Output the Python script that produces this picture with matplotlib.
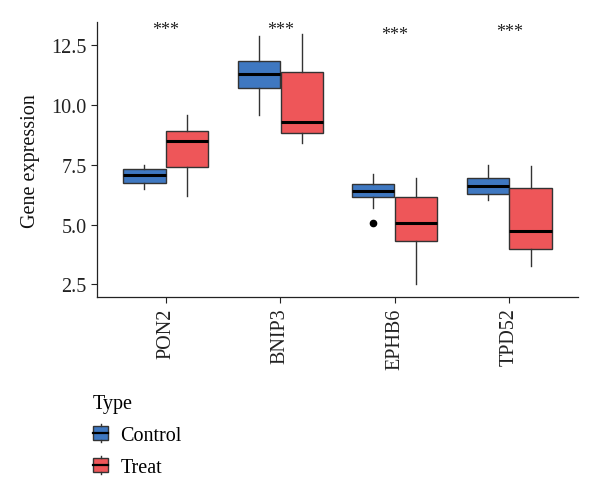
import numpy as np
import matplotlib.pyplot as plt
from matplotlib.patches import Rectangle
from matplotlib.lines import Line2D
from matplotlib.legend_handler import HandlerBase

plt.rcParams['font.family'] = ['Liberation Serif', 'DejaVu Serif']

genes = ['PON2', 'BNIP3', 'EPHB6', 'TPD52']
groups = ['Control', 'Treat']
colors = ['#3F78C1', '#EE5659']

# whislo, q1, median, q3, whishi for each gene
control_stats = [
    [6.49, 6.76, 7.08, 7.32, 7.50],
    [9.58, 10.72, 11.30, 11.82, 12.86],
    [5.70, 6.14, 6.40, 6.68, 7.11],
    [6.01, 6.30, 6.61, 6.95, 7.49],
]
treat_stats = [
    [6.20, 7.39, 8.49, 8.90, 9.60],
    [8.42, 8.82, 9.30, 11.39, 12.96],
    [2.53, 4.32, 5.05, 6.15, 6.95],
    [3.26, 3.99, 4.74, 6.54, 7.47],
]
control_outliers = [[], [], [5.08], []]
treat_outliers = [[], [], [], []]

stars = ['***', '***', '***', '***']
star_y = [13.15, 13.15, 12.96, 13.07]


def to_bxp(rows, outs):
    return [dict(whislo=r[0], q1=r[1], med=r[2], q3=r[3], whishi=r[4], fliers=o)
            for r, o in zip(rows, outs)]


class BoxKey(HandlerBase):
    def create_artists(self, legend, orig_handle, xdescent, ydescent,
                       width, height, fontsize, trans):
        w = width
        x0 = -xdescent
        y0 = -ydescent + height * 0.12
        h = height * 0.76
        box = Rectangle((x0, y0), w, h, facecolor=orig_handle.get_facecolor(),
                        edgecolor='#333333', linewidth=1.0, transform=trans)
        xm = x0 + w / 2
        med = Line2D([x0, x0 + w], [y0 + h / 2] * 2, color='black', lw=1.6, transform=trans)
        top = Line2D([xm, xm], [y0 + h, -ydescent + height], color='#333333', lw=1.0, transform=trans)
        bot = Line2D([xm, xm], [-ydescent, y0], color='#333333', lw=1.0, transform=trans)
        return [box, med, top, bot]


fig = plt.figure(figsize=(6, 5.02), dpi=100)
ax = fig.add_axes([0.162, 0.406, 0.801, 0.548])

x = np.arange(1, len(genes) + 1)
offset = 0.1875
for stats, outs, col, off in [(control_stats, control_outliers, colors[0], -offset),
                              (treat_stats, treat_outliers, colors[1], offset)]:
    ax.bxp(to_bxp(stats, outs), positions=x + off, widths=0.37, patch_artist=True,
           showcaps=False, manage_ticks=False,
           boxprops=dict(facecolor=col, edgecolor='#333333', linewidth=1.0),
           medianprops=dict(color='black', linewidth=2.2),
           whiskerprops=dict(color='#333333', linewidth=1.0),
           flierprops=dict(marker='o', markerfacecolor='black',
                           markeredgecolor='black', markersize=4.5))

for xi, s, yi in zip(x, stars, star_y):
    ax.text(xi, yi, s, ha='center', va='center', fontsize=13, color='#222222')

ax.set_xlim(0.4, 4.6)
ax.set_ylim(1.97, 13.46)
ax.set_yticks([2.5, 5.0, 7.5, 10.0, 12.5])
ax.set_yticklabels(['2.5', '5.0', '7.5', '10.0', '12.5'])
ax.set_xticks(x)
ax.set_xticklabels(genes, rotation=90)
ax.tick_params(labelsize=14.5, colors='#222222', length=4, width=0.8)
ax.spines['top'].set_visible(False)
ax.spines['right'].set_visible(False)
for sp in ['left', 'bottom']:
    ax.spines[sp].set_linewidth(0.9)
    ax.spines[sp].set_color('#222222')
ax.set_ylabel('Gene expression', fontsize=14.5, color='#111111', labelpad=8)

handles = [Rectangle((0, 0), 1, 1, facecolor=c) for c in colors]
fig.legend(handles, groups, title='Type', loc='upper left',
           bbox_to_anchor=(0.125, 0.25), frameon=False, fontsize=14.5,
           title_fontsize=14.5, alignment='left', handler_map={Rectangle: BoxKey()},
           handlelength=0.75, handleheight=1.0, handletextpad=0.6, labelspacing=0.55)

fig.savefig('out.png', dpi=100)
